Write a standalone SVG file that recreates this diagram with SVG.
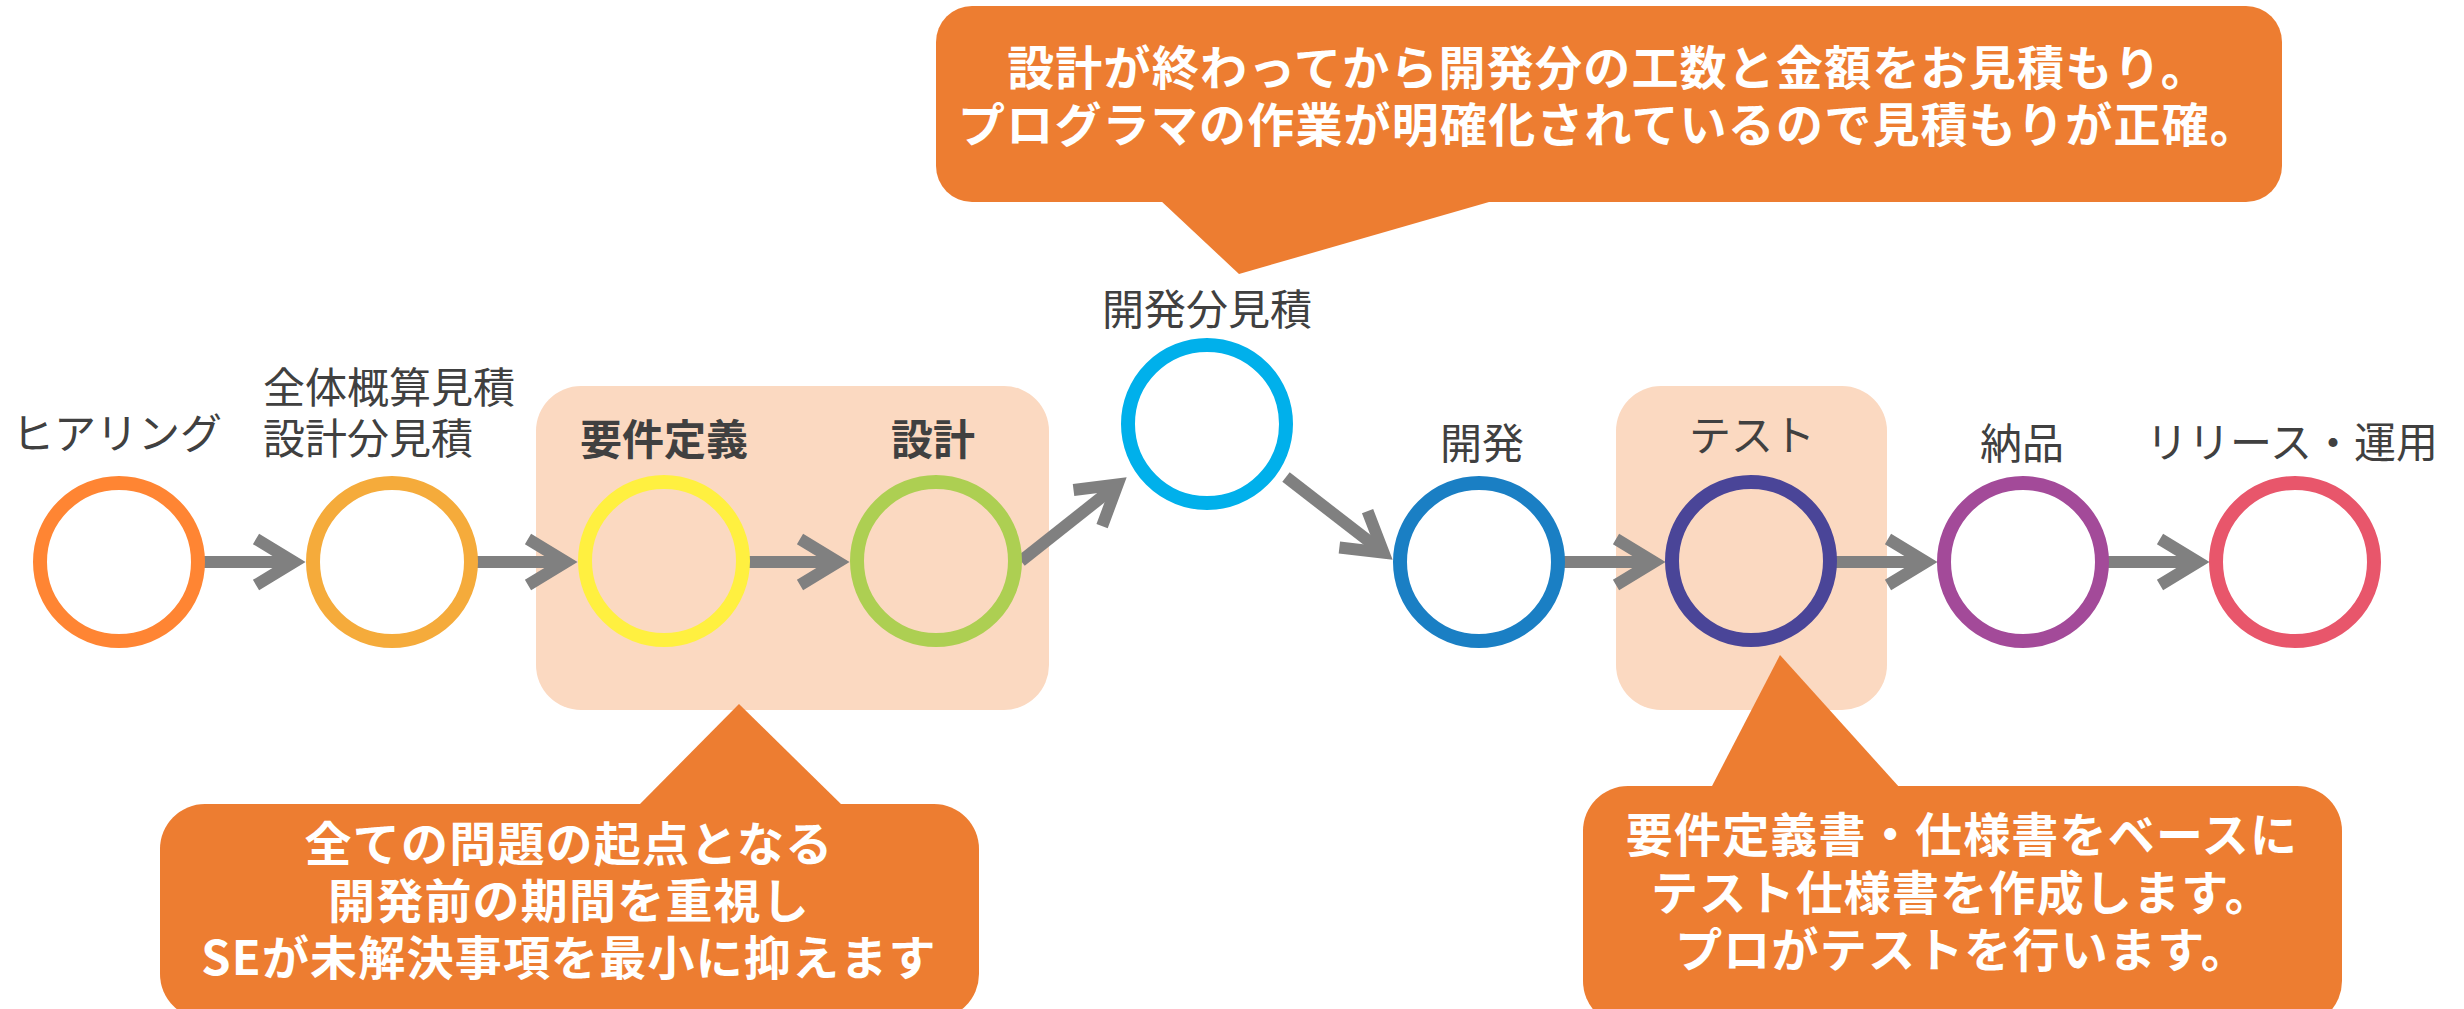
<svg xmlns="http://www.w3.org/2000/svg" width="2464" height="1009" viewBox="0 0 2464 1009">
<style>
.lbl{font-family:"Noto Sans CJK JP","Noto Sans",sans-serif;font-size:42px;fill:#404040;text-anchor:middle}
.b{font-weight:bold}
.co{font-family:"Noto Sans CJK JP","Noto Sans",sans-serif;font-size:47px;font-weight:bold;fill:#FFFFFF;text-anchor:middle;letter-spacing:1.2px}
.ring{fill:none;stroke-width:14}
.peach{fill:#FBD9C1}
.orange{fill:#ED7D31}
.conn{stroke:#808080;stroke-width:12;fill:none}
</style>
<defs>
<marker id="ah" markerUnits="userSpaceOnUse" orient="auto" markerWidth="80" markerHeight="80" viewBox="-60 -40 80 80" refX="0" refY="0" overflow="visible">
<path d="M-38,-23 L0,0 L-38,23" fill="none" stroke="#808080" stroke-width="12" stroke-linejoin="miter"/>
</marker>
</defs>
<rect width="2464" height="1009" fill="#FFFFFF"/>
<g id="highlight-left"><rect class="peach" x="536" y="386" width="513" height="324" rx="45"/></g>
<g id="highlight-test"><rect class="peach" x="1616" y="386" width="271" height="324" rx="45"/></g>

<g id="callout-top">
<rect class="orange" x="936" y="6" width="1346" height="196" rx="36"/>
<polygon class="orange" points="1160,200 1239,274 1496,200"/>
<text class="co" x="1608" y="85">設計が終わってから開発分の工数と金額をお見積もり。</text>
<text class="co" x="1608" y="142">プログラマの作業が明確化されているので見積もりが正確。</text>
</g>
<g id="callout-left">
<rect class="orange" x="160" y="804" width="819" height="215" rx="45"/>
<polygon class="orange" points="638,806 739,704 843,806"/>
<text class="co" x="569" y="861">全ての問題の起点となる</text>
<text class="co" x="569" y="918">開発前の期間を重視し</text>
<text class="co" x="569" y="975">SEが未解決事項を最小に抑えます</text>
</g>
<g id="callout-right">
<rect class="orange" x="1583" y="786" width="759" height="240" rx="45"/>
<polygon class="orange" points="1711,788 1780,655 1900,788"/>
<text class="co" x="1962" y="852">要件定義書・仕様書をベースに</text>
<text class="co" x="1962" y="910">テスト仕様書を作成します。</text>
<text class="co" x="1962" y="967">プロがテストを行います。</text>
</g>

<g id="connectors">
<line class="conn" x1="204" y1="562" x2="294" y2="562" marker-end="url(#ah)"/>
<line class="conn" x1="477" y1="562" x2="566" y2="562" marker-end="url(#ah)"/>
<line class="conn" x1="749" y1="562" x2="838" y2="562" marker-end="url(#ah)"/>
<line class="conn" x1="1021" y1="561" x2="1117.6" y2="484.5" marker-end="url(#ah)"/>
<line class="conn" x1="1286" y1="477" x2="1383.5" y2="552.6" marker-end="url(#ah)"/>
<line class="conn" x1="1564" y1="562" x2="1654" y2="562" marker-end="url(#ah)"/>
<line class="conn" x1="1836" y1="562" x2="1926" y2="562" marker-end="url(#ah)"/>
<line class="conn" x1="2108" y1="562" x2="2198" y2="562" marker-end="url(#ah)"/>
</g>

<g id="node-hearing">
<circle class="ring" cx="119" cy="562" r="79" stroke="#FF8533"/>
<text class="lbl" x="117" y="449">ヒアリング</text>
</g>
<g id="node-overall-estimate">
<circle class="ring" cx="392" cy="562" r="79" stroke="#F5AB3B"/>
<text class="lbl" x="263" y="403" style="text-anchor:start">全体概算見積</text>
<text class="lbl" x="263" y="454" style="text-anchor:start">設計分見積</text>
</g>
<g id="node-requirements">
<circle class="ring" cx="664" cy="561" r="79" stroke="#FFF040"/>
<text class="lbl b" x="664" y="455">要件定義</text>
</g>
<g id="node-design">
<circle class="ring" cx="936" cy="561" r="79" stroke="#ADCF52"/>
<text class="lbl b" x="933" y="455">設計</text>
</g>
<g id="node-dev-estimate">
<circle class="ring" cx="1207" cy="424" r="79" stroke="#00B0EB"/>
<text class="lbl" x="1207" y="325">開発分見積</text>
</g>
<g id="node-development">
<circle class="ring" cx="1479" cy="562" r="79" stroke="#1A7FC4"/>
<text class="lbl" x="1482" y="459">開発</text>
</g>
<g id="node-test">
<circle class="ring" cx="1751" cy="561" r="79" stroke="#4A4598"/>
<text class="lbl" x="1752" y="451">テスト</text>
</g>
<g id="node-delivery">
<circle class="ring" cx="2023" cy="562" r="79" stroke="#A34A99"/>
<text class="lbl" x="2022" y="459">納品</text>
</g>
<g id="node-release">
<circle class="ring" cx="2295" cy="562" r="79" stroke="#E8566B"/>
<text class="lbl" x="2292" y="458">リリース・運用</text>
</g>
</svg>
